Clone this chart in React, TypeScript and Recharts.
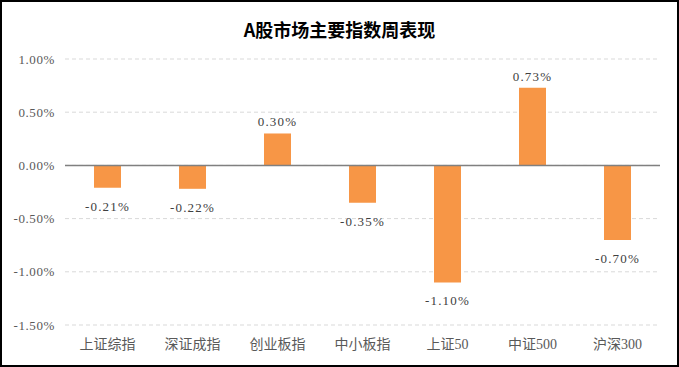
import React from "react";
import { BarChart, Bar, XAxis, YAxis, CartesianGrid, ReferenceLine, LabelList } from "recharts";

const indices = ["上证综指", "深证成指", "创业板指", "中小板指", "上证50", "中证500", "沪深300"];
const weeklyChange = [-0.21, -0.22, 0.3, -0.35, -1.1, 0.73, -0.7];
const yTicks = [1, 0.5, 0, -0.5, -1, -1.5];

const data = indices.map((name, i) => ({ name, value: weeklyChange[i] }));

const FONT = "'Liberation Serif', 'Noto Sans CJK SC', serif";

const pct = (v: number) => `${v.toFixed(2)}%`;

const renderLabel = (props: any) => {
  const { x, y, width, height, value } = props;
  const top = Math.min(y, y + height);
  const bottom = Math.max(y, y + height);
  const cx = x + width / 2;
  const ty = value >= 0 ? top - 10 : bottom + 20;
  return (
    <text x={cx} y={ty} textAnchor="middle" dominantBaseline="middle" fontSize={13} fontFamily={FONT} fill="#404040" letterSpacing={1.2}>
      {pct(value)}
    </text>
  );
};

export default function App() {
  return (
    <div
      style={{
        position: "fixed",
        left: 0,
        top: 0,
        width: 679,
        height: 367,
        border: "2px solid #000",
        boxSizing: "border-box",
        background: "#fff",
      }}
    >
      <div
        style={{
          position: "absolute",
          left: 0,
          top: 14,
          width: 675,
          textAlign: "center",
          fontFamily: "'Noto Sans CJK SC', sans-serif",
          fontWeight: "bold",
          fontSize: 18,
          color: "#000",
        }}
      >
        A股市场主要指数周表现
      </div>
      <div style={{ position: "absolute", left: -2, top: -2 }}>
        <BarChart width={679} height={367} data={data} margin={{ top: 59, right: 19, bottom: 12, left: 0 }}>
          <CartesianGrid vertical={false} stroke="#d9d9d9" strokeDasharray="4 3" />
          <XAxis
            dataKey="name"
            axisLine={false}
            tickLine={false}
            height={30}
            tickMargin={8}
            interval={0}
            tick={{ fontSize: 14, fontFamily: FONT, fill: "#595959" }}
          />
          <YAxis
            width={65}
            domain={[-1.5, 1]}
            ticks={yTicks}
            axisLine={false}
            tickLine={false}
            tickMargin={4}
            tickFormatter={pct}
            tick={{ fontSize: 13, fontFamily: FONT, fill: "#595959", letterSpacing: 0.6 }}
          />
          <ReferenceLine y={0} stroke="#808080" strokeWidth={1.5} />
          <Bar dataKey="value" fill="#f79646" barSize={27} isAnimationActive={false}>
            <LabelList dataKey="value" content={renderLabel} />
          </Bar>
        </BarChart>
      </div>
    </div>
  );
}
